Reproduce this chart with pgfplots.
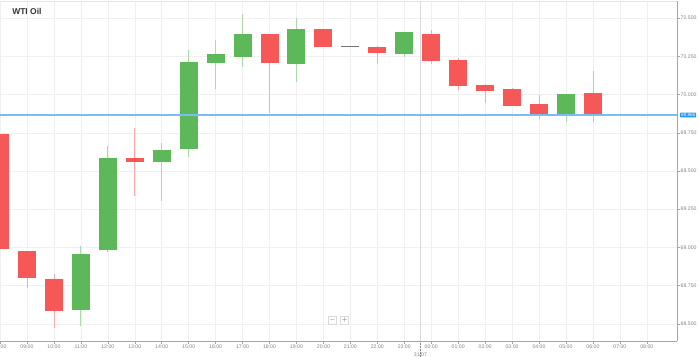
\documentclass[border=0pt]{standalone}
\usepackage{pgfplots}
\pgfplotsset{compat=1.18}
\usepackage{pgfplotstable}
\usepackage{fontspec}
\setmainfont{Liberation Sans}
\definecolor{cred}{RGB}{246,88,88}
\definecolor{cgreen}{RGB}{92,184,88}
\definecolor{credw}{RGB}{250,170,170}
\definecolor{cgreenw}{RGB}{170,218,170}
\definecolor{gridc}{RGB}{240,240,240}
\definecolor{axc}{RGB}{165,165,165}
\definecolor{txtc}{RGB}{130,130,130}
\definecolor{priceline}{RGB}{120,190,240}
\definecolor{pbox}{RGB}{40,150,235}

\pgfplotstableread{
i open high low close
0 69.745 69.745 68.992 68.992
1 68.976 68.976 68.737 68.802
2 68.793 68.829 68.473 68.584
5 69.585 69.781 69.339 69.557
10 70.395 70.395 69.882 70.205
12 70.427 70.430 70.310 70.310
14 70.312 70.316 70.203 70.272
16 70.399 70.425 70.203 70.218
17 70.223 70.236 70.028 70.054
18 70.061 70.067 69.945 70.026
19 70.033 70.046 69.928 69.928
20 69.935 70.000 69.838 69.858
22 70.010 70.152 69.821 69.865
}\downtab

\pgfplotstableread{
i open high low close
3 68.588 69.009 68.486 68.959
4 68.981 69.662 68.968 69.588
6 69.557 69.683 69.304 69.640
7 69.647 70.290 69.592 70.213
8 70.207 70.360 70.035 70.262
9 70.246 70.530 70.181 70.399
11 70.200 70.501 70.080 70.432
15 70.268 70.406 70.246 70.406
21 69.865 70.004 69.821 70.004
}\uptab

\begin{document}
\begin{tikzpicture}
\path[use as bounding box] (0,0) rectangle (699bp,-358bp);
\begin{axis}[
  at={(0,-1bp)}, anchor=north west,
  scale only axis, width=677bp, height=340bp,
  xmin=0, xmax=25.12, ymin=68.387, ymax=70.611,
  axis x line*=bottom, axis y line*=right,
  clip mode=individual,
  xtick={0,...,24},
  xticklabels={08:00,09:00,10:00,11:00,12:00,13:00,14:00,15:00,16:00,17:00,18:00,19:00,20:00,21:00,22:00,23:00,00:00,01:00,02:00,03:00,04:00,05:00,06:00,07:00,08:00},
  ytick={68.5,68.75,69,69.25,69.5,69.75,70,70.25,70.5},
  yticklabel style={inner sep=1bp, /pgf/number format/fixed, /pgf/number format/fixed zerofill, /pgf/number format/precision=3, /pgf/number format/assume math mode=true},
  ticklabel style={font=\fontsize{5.2}{6}\selectfont, text=txtc},
  xticklabel style={inner sep=1bp},
  grid=major, major grid style={gridc, line width=0.5bp},
  tick style={axc, line width=0.5bp}, major tick length=2.5bp, tick align=outside,
  axis line style={axc, line width=0.8bp},
]
\addplot[black!15, line width=0.6bp, forget plot] coordinates {(15.6,68.387) (15.6,70.611)};
% wicks
\addplot[draw=none, mark=none, error bars/.cd, y dir=plus, y explicit, error mark=none,
  error bar style={draw=credw, line width=0.8bp}]
  table[x=i, y=low, y error plus expr=\thisrow{high}-\thisrow{low}] {\downtab};
\addplot[draw=none, mark=none, error bars/.cd, y dir=plus, y explicit, error mark=none,
  error bar style={draw=cgreenw, line width=0.8bp}]
  table[x=i, y=low, y error plus expr=\thisrow{high}-\thisrow{low}] {\uptab};
% bodies
\addplot[draw=none, mark=none, error bars/.cd, y dir=plus, y explicit, error mark=none,
  error bar style={draw=cred, line width=18bp}]
  table[x=i, y=close, y error plus expr=\thisrow{open}-\thisrow{close}] {\downtab};
\addplot[draw=none, mark=none, error bars/.cd, y dir=plus, y explicit, error mark=none,
  error bar style={draw=cgreen, line width=18bp}]
  table[x=i, y=open, y error plus expr=\thisrow{close}-\thisrow{open}] {\uptab};
% doji
\addplot[only marks, mark=-, mark size=9bp, mark options={draw=black!55, line width=0.8bp}] coordinates {(13,70.312)};
% current price line
\addplot[draw=priceline, line width=1.2bp, mark=none] coordinates {(0,69.866) (25.12,69.866)};

\draw[black!10, line width=0.6bp] (rel axis cs:0,1) -- (rel axis cs:1,1);
\node[anchor=west, font=\bfseries\fontsize{8.5}{10}\selectfont, text=black!80] at (rel axis cs:0.013,0.969) {WTI Oil};
\node[fill=pbox, text=white, inner sep=0.8bp, font=\fontsize{4.7}{5}\selectfont, anchor=west, rounded corners=0.6bp, xshift=3bp] at (axis cs:25.12,69.866) {69.866};
\draw[txtc, densely dotted, line width=0.5bp] (axis cs:15.6,68.387) -- ++(0,-9bp);
\node[font=\fontsize{5.2}{6}\selectfont, text=txtc, anchor=north, yshift=-8.5bp] at (axis cs:15.6,68.387) {31/07};
\node[draw=black!15, fill=white, minimum size=8bp, inner sep=0pt, font=\fontsize{6}{6}\selectfont, text=black!70] at (rel axis cs:0.491,0.062) {$-$};
\node[draw=black!15, fill=white, minimum size=8bp, inner sep=0pt, font=\fontsize{6}{6}\selectfont, text=black!70] at (rel axis cs:0.509,0.062) {$+$};
\end{axis}
\end{tikzpicture}
\end{document}
